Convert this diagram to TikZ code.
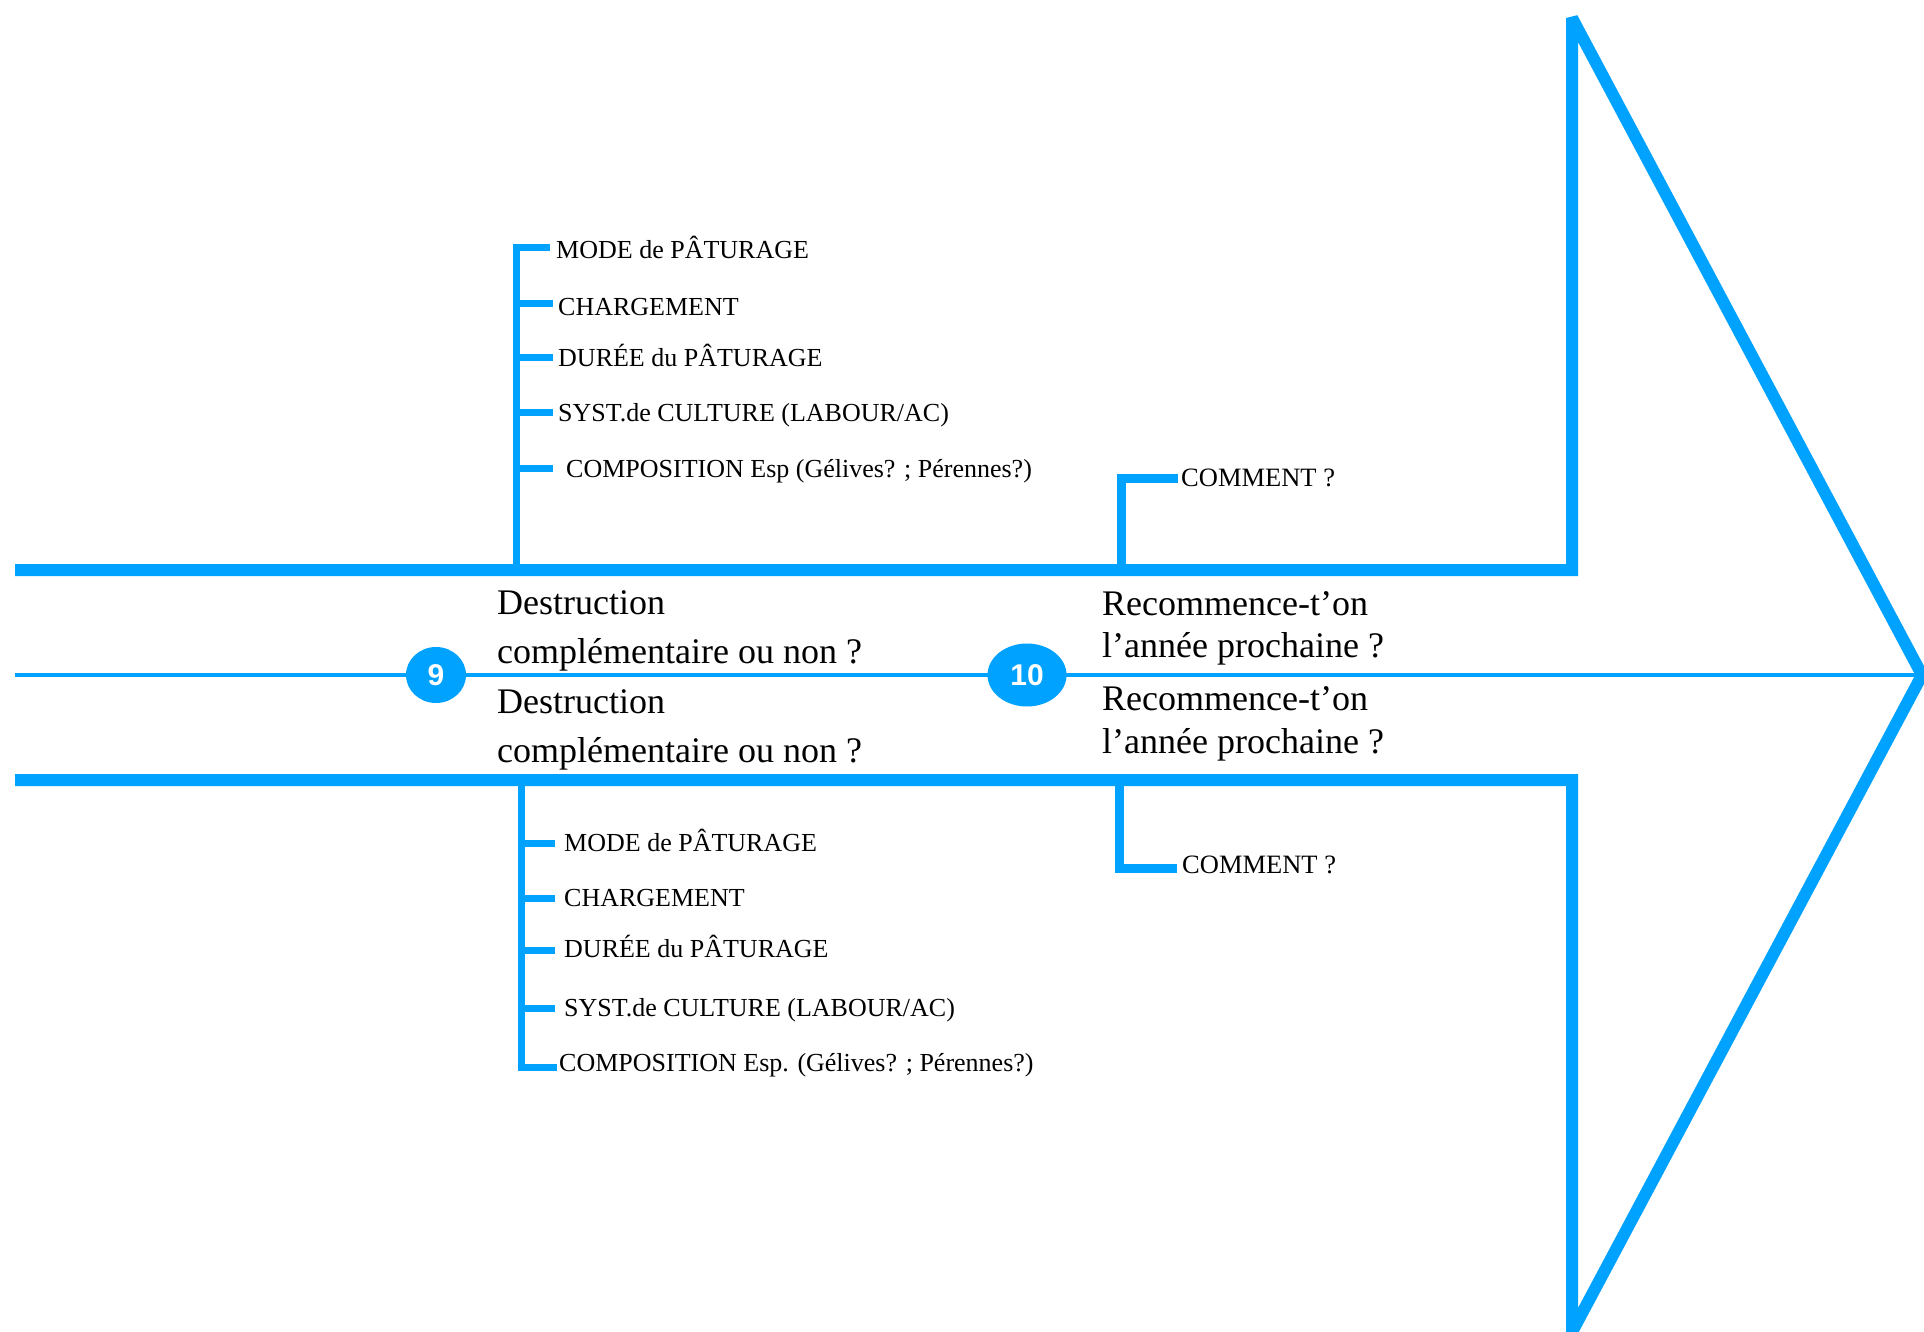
\documentclass[tikz,border=0pt]{standalone}
\usepackage{fontspec}
\setmainfont{Liberation Serif}
\newfontfamily\numfont{Liberation Sans}
\usetikzlibrary{shapes.geometric}
\definecolor{fishblue}{RGB}{0,162,255}
\begin{document}
\begin{tikzpicture}[x=1pt,y=-1pt,
  bonebig/.style={draw=fishblue, line width=12pt, line join=miter, miter limit=3},
  bonethin/.style={draw=fishblue, line width=4pt},
  bracketline/.style={draw=fishblue, line width=7pt, line join=miter},
  commentline/.style={draw=fishblue, line width=9pt, line join=miter},
  smalllbl/.style={anchor=base west, inner sep=0pt, font=\fontsize{26}{30}\selectfont},
  commentlbl/.style={anchor=base west, inner sep=0pt, font=\fontsize{26.5}{30}\selectfont},
  leftq/.style={anchor=base west, inner sep=0pt, font=\fontsize{36}{40}\selectfont},
  rightq/.style={anchor=base west, inner sep=0pt, font=\fontsize{36}{40}\selectfont},
  numbadge/.style={ellipse, fill=fishblue, inner sep=0pt, text=white, font=\numfont\bfseries\fontsize{30}{34}\selectfont}
]
\useasboundingbox (0,0) rectangle (1924,1332);
\fill[white] (0,0) rectangle (1924,1332);

% arrow frame
\coordinate (topleft) at (15,570);
\coordinate (topcorner) at (1572,570);
\coordinate (apex) at (1572,18);
\coordinate (tip) at (1922,675);
\coordinate (bottomapex) at (1572,1332);
\coordinate (bottomcorner) at (1572,780);
\coordinate (bottomleft) at (15,780);
\coordinate (midleft) at (15,675);

\draw[bonethin] (midleft) -- (tip);
\draw[bonebig] (topleft) -- (topcorner) -- (apex) -- (tip) -- (bottomapex) -- (bottomcorner) -- (bottomleft);

% badges
\node[numbadge, minimum width=60pt, minimum height=56pt] (n9) at (436,675) {9};
\node[numbadge, minimum width=79pt, minimum height=63pt] (n10) at (1027,675) {10};

% central questions
\node[leftq] (dq1a) at (497,614) {Destruction};
\node[leftq] (dq1b) at (497,663) {complémentaire ou non ?};
\node[leftq] (dq2a) at (497,713) {Destruction};
\node[leftq] (dq2b) at (497,762) {complémentaire ou non ?};
\node[rightq] (rq1a) at (1102,615) {Recommence-t’on};
\node[rightq] (rq1b) at (1102,657) {l’année prochaine ?};
\node[rightq] (rq2a) at (1102,710) {Recommence-t’on};
\node[rightq] (rq2b) at (1102,753) {l’année prochaine ?};

% top bracket
\node[smalllbl] (ta) at (556,259) {MODE de PÂTURAGE};
\node[smalllbl] (tb) at (558,316) {CHARGEMENT};
\node[smalllbl] (tc) at (558,366) {DURÉE du PÂTURAGE};
\node[smalllbl] (td) at (558,421) {SYST.de CULTURE (LABOUR/AC)};
\node[smalllbl] (te) at (566,477) {COMPOSITION Esp (Gélives? ; Pérennes?)};
\coordinate (tbase) at (516,570);
\coordinate (ttop) at (516,248);
\coordinate (ttopend) at (550,248);
\draw[bracketline] (tbase) -- (ttop) -- (ttopend);
\foreach \yy/\nm in {303/tb, 357/tc, 412/td, 468/te}{
  \coordinate (tk\nm) at (516,\yy);
  \coordinate (tkend\nm) at (553,\yy);
  \draw[bracketline] (tk\nm) -- (tkend\nm);
}

% bottom bracket
\node[smalllbl] (ba) at (564,851) {MODE de PÂTURAGE};
\node[smalllbl] (bb) at (564,906) {CHARGEMENT};
\node[smalllbl] (bc) at (564,957) {DURÉE du PÂTURAGE};
\node[smalllbl] (bd) at (564,1016) {SYST.de CULTURE (LABOUR/AC)};
\node[smalllbl] (be) at (559,1071) {COMPOSITION Esp. (Gélives? ; Pérennes?)};
\coordinate (bbase) at (521,780);
\coordinate (bbot) at (521,1067);
\coordinate (bbotend) at (557,1067);
\draw[bracketline] (bbase) -- (bbot) -- (bbotend);
\foreach \yy/\nm in {843/ba, 898/bb, 950/bc, 1008/bd}{
  \coordinate (bk\nm) at (521,\yy);
  \coordinate (bkend\nm) at (555,\yy);
  \draw[bracketline] (bk\nm) -- (bkend\nm);
}

% comment brackets
\node[commentlbl] (ctop) at (1181,486) {COMMENT ?};
\node[commentlbl] (cbot) at (1182,873) {COMMENT ?};
\coordinate (ctbase) at (1121,570);
\coordinate (ctcorner) at (1121,478);
\coordinate (ctend) at (1178,478);
\draw[commentline] (ctbase) -- (ctcorner) -- (ctend);
\coordinate (cbbase) at (1119,780);
\coordinate (cbcorner) at (1119,868);
\coordinate (cbend) at (1177,868);
\draw[commentline] (cbbase) -- (cbcorner) -- (cbend);
\end{tikzpicture}
\end{document}
